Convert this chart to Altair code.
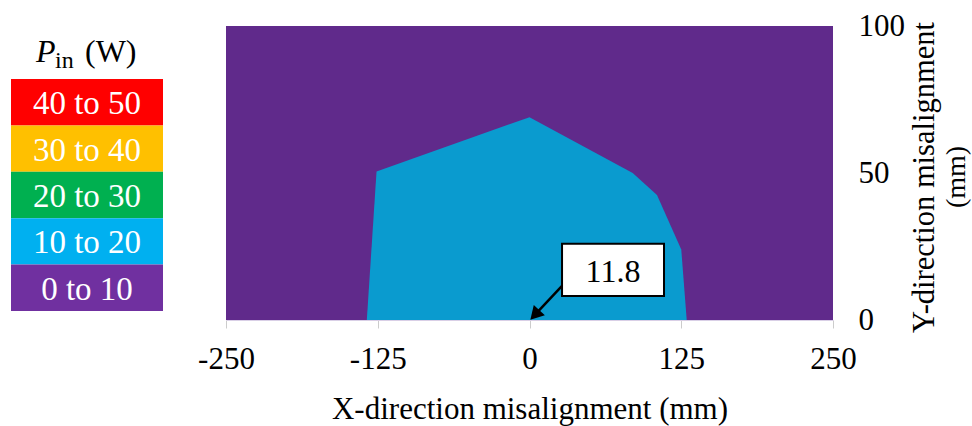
import altair as alt
import pandas as pd

# Upper edge of the 10-20 W region, closed down to Y = 0
edge_x = [-134, -126, 0, 85, 105, 125, 129.5]
edge_y = [0, 50.5, 69, 50, 42.5, 24, 0]

# Full extent of the measured plane (0-10 W everywhere else)
plane_x = [-250, 250]
plane_y = [0, 100]

x_ticks = [-250, -125, 0, 125, 250]
y_ticks = [0, 50, 100]

bands = ["40 to 50", "30 to 40", "20 to 30", "10 to 20", "0 to 10"]
band_colors = ["#ff0000", "#ffc000", "#00b050", "#00b0f0", "#7030a0"]

# Peak input power and where it occurs
peak_x = 0
peak_y = 0
peak_value = 11.8

FONT = "Liberation Serif"
FILL_LOW = "#602a8b"
FILL_MID = "#0a9bcf"

xscale = alt.Scale(domain=plane_x, nice=False, zero=False)
yscale = alt.Scale(domain=plane_y, nice=False, zero=False)

x_axis = alt.Axis(
    values=x_ticks, labelExpr="'' + datum.value", labelFont=FONT, labelFontSize=31,
    labelColor="black", labelBaseline="alphabetic", labelPadding=40, labelFlush=False,
    tickColor="#cccccc", tickSize=8, domainColor="#d9cfe6", grid=False,
    title="X-direction misalignment (mm)", titleFont=FONT, titleFontSize=31,
    titleFontWeight="normal", titleColor="black", titleBaseline="alphabetic", titleY=98,
)
y_axis = alt.Axis(
    orient="right", values=y_ticks, ticks=False, tickSize=0, domain=False, grid=False,
    labelFont=FONT, labelFontSize=31, labelColor="black", labelPadding=25, labelAlign="left",
    title="Y-direction misalignment", titleFont=FONT, titleFontSize=30.5,
    titleFontWeight="normal", titleColor="black", titleAngle=270, titleAlign="center",
    titleBaseline="alphabetic", titleX=100, titleY=151,
)

plane = alt.Chart(pd.DataFrame({"x0": [plane_x[0]], "x1": [plane_x[1]],
                                "y0": [plane_y[0]], "y1": [plane_y[1]]})).mark_rect(
    color=FILL_LOW
).encode(
    x=alt.X("x0:Q", scale=xscale, axis=x_axis),
    x2="x1",
    y=alt.Y("y0:Q", scale=yscale, axis=y_axis),
    y2="y1",
)

region = alt.Chart(pd.DataFrame({"x": edge_x, "y": edge_y})).mark_area(
    color=FILL_MID, interpolate="linear"
).encode(
    x=alt.X("x:Q", scale=xscale),
    y=alt.Y("y:Q", scale=yscale),
    y2=alt.datum(0),
)

# Callout for the peak value
box = {"x0": 26.8, "x1": 110.8, "y0": 8.2, "y1": 25.9}
arrow_start = {"x": 26.8, "y": 11.6}
head = {"x": peak_x + 4.4, "y": peak_y + 1.75}

callout_box = alt.Chart(pd.DataFrame([box])).mark_rect(
    fill="white", stroke="black", strokeWidth=2
).encode(
    x=alt.X("x0:Q", scale=xscale), x2="x1",
    y=alt.Y("y0:Q", scale=yscale), y2="y1",
)
callout_text = alt.Chart(pd.DataFrame({
    "x": [(box["x0"] + box["x1"]) / 2], "y": [(box["y0"] + box["y1"]) / 2],
    "label": [f"{peak_value:.1f}"],
})).mark_text(font=FONT, fontSize=32, color="black", baseline="middle", dy=2).encode(
    x=alt.X("x:Q", scale=xscale), y=alt.Y("y:Q", scale=yscale), text="label:N",
)
arrow_line = alt.Chart(pd.DataFrame({
    "x": [arrow_start["x"]], "y": [arrow_start["y"]],
    "x2": [head["x"]], "y2": [head["y"]],
})).mark_rule(color="black", strokeWidth=2.5).encode(
    x=alt.X("x:Q", scale=xscale), x2="x2",
    y=alt.Y("y:Q", scale=yscale), y2="y2",
)
arrow_head = alt.Chart(pd.DataFrame([head])).mark_point(
    shape="triangle-up", angle=223, size=230, filled=True, color="black", opacity=1
).encode(
    x=alt.X("x:Q", scale=xscale), y=alt.Y("y:Q", scale=yscale),
)

one = pd.DataFrame({"k": [0]})
# Second line of the Y title, centred under the first
y_unit = alt.Chart(one).mark_text(
    text="(mm)", font=FONT, fontSize=28, angle=270, align="center",
    baseline="alphabetic", color="black"
).encode(x=alt.value(739), y=alt.value(151))

main = alt.layer(plane, region, arrow_line, arrow_head, callout_box, callout_text, y_unit)

# Colour key drawn as stacked boxes to the left of the plot
key_scale = alt.Scale(range=[53, 285], paddingInner=0, paddingOuter=0)
key_df = pd.DataFrame({"band": bands})
key_boxes = alt.Chart(key_df).mark_rect().encode(
    y=alt.Y("band:N", sort=bands, scale=key_scale, axis=None),
    x=alt.value(-215), x2=alt.value(-63),
    color=alt.Color("band:N", sort=bands,
                    scale=alt.Scale(domain=bands, range=band_colors), legend=None),
)
key_text = alt.Chart(key_df).mark_text(
    font=FONT, fontSize=33, color="white", baseline="middle", dy=2
).encode(
    y=alt.Y("band:N", sort=bands, scale=key_scale, axis=None),
    x=alt.value(-139),
    text="band:N",
)
key_title_p = alt.Chart(one).mark_text(
    text="P", font=FONT, fontSize=32, fontStyle="italic", align="left",
    baseline="alphabetic", color="black"
).encode(x=alt.value(-190), y=alt.value(36))
key_title_sub = alt.Chart(one).mark_text(
    text="in", font=FONT, fontSize=24, align="left", baseline="alphabetic", color="black"
).encode(x=alt.value(-171), y=alt.value(42))
key_title_unit = alt.Chart(one).mark_text(
    text="(W)", font=FONT, fontSize=32, align="left", baseline="alphabetic", color="black"
).encode(x=alt.value(-141), y=alt.value(36))

key = alt.layer(key_boxes, key_text, key_title_p, key_title_sub, key_title_unit)

chart = alt.layer(main, key).resolve_scale(y="independent", color="independent").properties(
    width=607, height=294,
    autosize=alt.AutoSizeParams(type="none"),
    padding={"left": 226, "top": 26, "right": 139, "bottom": 106},
    background="white",
).configure_view(stroke=None)

chart.save("out.html", embed_options={"renderer": "svg", "actions": False})
